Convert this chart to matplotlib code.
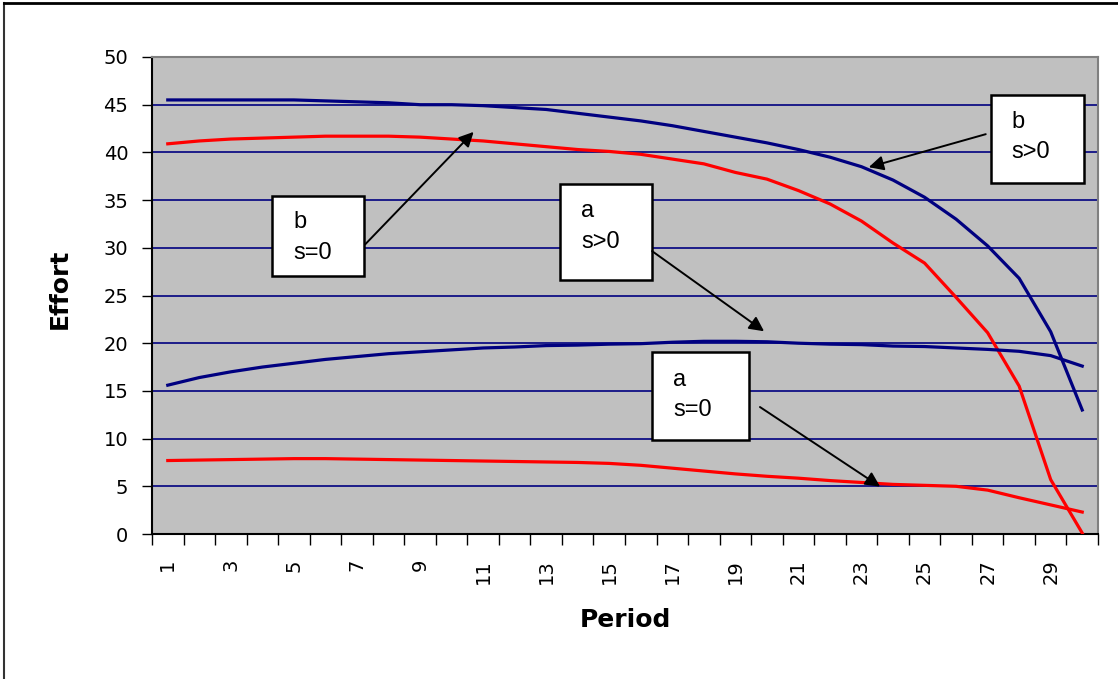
import numpy as np
import matplotlib
matplotlib.use("Agg")
import matplotlib.pyplot as plt
from matplotlib.patches import Rectangle
from matplotlib.lines import Line2D

periods = np.arange(1, 31)

# b, s>0 (navy, upper)
b_s_pos = [45.5, 45.5, 45.5, 45.5, 45.5, 45.4, 45.3, 45.2, 45.0, 45.0,
           44.9, 44.7, 44.5, 44.1, 43.7, 43.3, 42.8, 42.2, 41.6, 41.0,
           40.3, 39.5, 38.5, 37.1, 35.3, 33.0, 30.2, 26.8, 21.2, 13.0]
# b, s=0 (red, upper)
b_s_zero = [40.9, 41.2, 41.4, 41.5, 41.6, 41.7, 41.7, 41.7, 41.6, 41.4,
            41.2, 40.9, 40.6, 40.3, 40.1, 39.8, 39.3, 38.8, 37.9, 37.2,
            36.0, 34.6, 32.8, 30.5, 28.4, 24.8, 21.1, 15.5, 5.7, 0.1]
# a, s>0 (navy, lower)
a_s_pos = [15.6, 16.4, 17.0, 17.5, 17.9, 18.3, 18.6, 18.9, 19.1, 19.3,
           19.5, 19.6, 19.75, 19.8, 19.9, 19.95, 20.1, 20.2, 20.2, 20.15,
           20.0, 19.9, 19.85, 19.7, 19.65, 19.5, 19.35, 19.15, 18.7, 17.6]
# a, s=0 (red, lower)
a_s_zero = [7.7, 7.75, 7.8, 7.85, 7.9, 7.9, 7.85, 7.8, 7.75, 7.7,
            7.65, 7.6, 7.55, 7.5, 7.4, 7.2, 6.9, 6.6, 6.3, 6.05,
            5.85, 5.6, 5.4, 5.2, 5.1, 5.0, 4.6, 3.8, 3.05, 2.3]

# callouts: label lines, box (x0, x1, y_bot, y_top), text rows, arrow tail, arrow head
callouts = [
    (("b", "s>0"), (27.10, 30.06, 36.76, 46.0), (27.74, 43.14, 39.99), (26.94, 41.91), (23.23, 38.45)),
    (("b", "s=0"), (4.30, 7.23, 27.03, 35.43), (4.97, 32.67, 29.5), (7.26, 30.36), (10.70, 42.15)),
    (("a", "s>0"), (13.43, 16.36, 26.58, 36.66), (14.11, 33.86, 30.6), (16.36, 29.65), (19.91, 21.25)),
    (("a", "s=0"), (16.36, 19.43, 9.87, 19.04), (17.03, 16.18, 12.95), (19.78, 13.31), (23.59, 4.97)),
]

navy = "#000080"
red = "#FF0000"

fig = plt.figure(figsize=(11.18, 6.79), dpi=100)
ax = fig.add_axes([152 / 1118, 1 - 534 / 679, (1098 - 152) / 1118, (534 - 57) / 679])
ax.set_facecolor("#C0C0C0")

# outer chart frame (top and left edges visible)
fig.add_artist(Line2D([4 / 1118, 4 / 1118], [0, 1 - 3 / 679], color="#333333", lw=1.5))
fig.add_artist(Line2D([4 / 1118, 1], [1 - 3 / 679, 1 - 3 / 679], color="black", lw=2))

for v in range(5, 50, 5):
    ax.axhline(v, color=navy, lw=1.2, zorder=1)

ax.plot(periods, b_s_pos, color=navy, lw=2.3, zorder=3)
ax.plot(periods, b_s_zero, color=red, lw=2.3, zorder=3)
ax.plot(periods, a_s_pos, color=navy, lw=2.3, zorder=3)
ax.plot(periods, a_s_zero, color=red, lw=2.3, zorder=3)

ax.set_xlim(0.5, 30.5)
ax.set_ylim(0, 50)
ax.set_yticks(range(0, 51, 5))
ax.tick_params(axis="y", direction="out", length=7, width=1, pad=10, labelsize=14)

ax.set_xticks(np.arange(0.5, 31, 1))
ax.set_xticklabels([])
ax.set_xticks(periods[::2], minor=True)
ax.set_xticklabels([str(p) for p in periods[::2]], minor=True, rotation=90)
ax.tick_params(axis="x", which="major", direction="out", length=8, width=1)
ax.tick_params(axis="x", which="minor", length=0, pad=18, labelsize=14)

for s in ["left", "bottom"]:
    ax.spines[s].set_color("black")
    ax.spines[s].set_linewidth(1.5)
for s in ["top", "right"]:
    ax.spines[s].set_color("#808080")
    ax.spines[s].set_linewidth(1.5)

ax.set_xlabel("Period", fontsize=18, fontweight="bold")
ax.xaxis.set_label_coords(0.5, -0.155)
ax.set_ylabel("Effort", fontsize=18, fontweight="bold")
ax.yaxis.label.set_va("center")
ax.yaxis.set_label_coords(-0.098, 0.514)

for lines, (x0, x1, y0, y1), (tx, ty1, ty2), tail, head in callouts:
    ax.add_patch(Rectangle((x0, y0), x1 - x0, y1 - y0, facecolor="white",
                           edgecolor="black", lw=1.8, zorder=5))
    ax.text(tx, ty1, lines[0], fontsize=17, family="Liberation Sans", va="center", ha="left", zorder=6)
    ax.text(tx, ty2, lines[1], fontsize=17, family="Liberation Sans", va="center", ha="left", zorder=6)
    ax.annotate("", xy=head, xytext=tail,
                arrowprops=dict(arrowstyle="-|>", color="black", lw=1.4,
                                mutation_scale=22, shrinkA=0, shrinkB=0),
                zorder=6)

fig.savefig("out.png", dpi=100)
